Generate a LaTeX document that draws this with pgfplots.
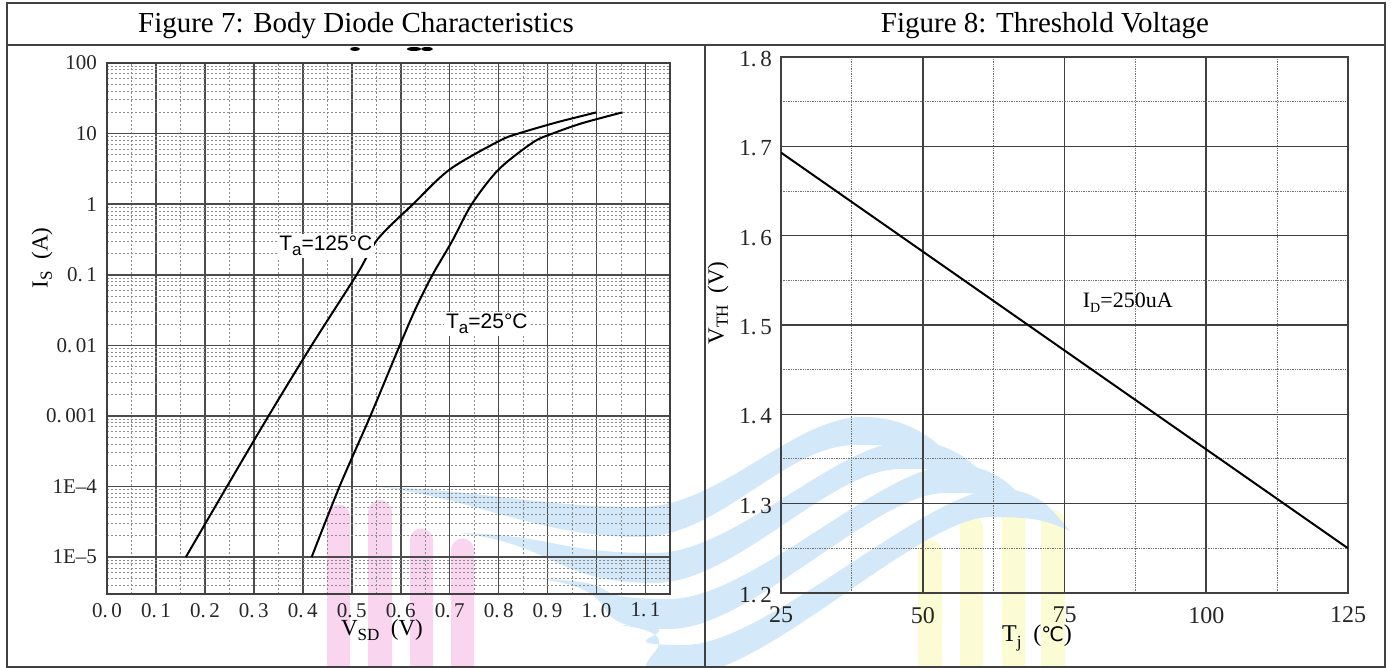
\documentclass[border=0pt]{standalone}
\usepackage{pgfplots}
\pgfplotsset{compat=1.18}
\usepackage{fontspec}
\setmainfont{Liberation Serif}
\newfontfamily\sansf{Liberation Sans}
\newfontfamily\dejavu{DejaVu Sans}
\definecolor{wmblue}{HTML}{D3E8F8}
\definecolor{wmpink}{HTML}{F9D5EF}
\definecolor{wmyel}{HTML}{FBFBD4}
\begin{document}
\begin{tikzpicture}[x=0.5pt,y=0.5pt]
\useasboundingbox (0,0) rectangle (1391,668);
% watermark (behind)
\begin{scope}
\clip (8,2) rectangle (1384,622);
\fill[wmpink] (327,0) -- (327,152) arc[start angle=180,end angle=0,radius=11.5] -- (350,0) -- cycle;
\fill[wmpink] (368,0) -- (368,156) arc[start angle=180,end angle=0,radius=12] -- (392,0) -- cycle;
\fill[wmpink] (410,0) -- (410,128) arc[start angle=180,end angle=0,radius=11.5] -- (433,0) -- cycle;
\fill[wmpink] (451,0) -- (451,118) arc[start angle=180,end angle=0,radius=11.5] -- (474,0) -- cycle;
\fill[wmyel] (918,0) -- (918,116) arc[start angle=180,end angle=0,radius=12] -- (942,0) -- cycle;
\fill[wmyel] (960,0) -- (960,141) arc[start angle=180,end angle=0,radius=11.5] -- (983,0) -- cycle;
\fill[wmyel] (1002,0) -- (1002,151) arc[start angle=180,end angle=0,radius=11.5] -- (1025,0) -- cycle;
\fill[wmyel] (1041,0) -- (1041,146) arc[start angle=180,end angle=0,radius=12] -- (1065,0) -- cycle;
\begin{scope}[shift={(0,668)}, yscale=-1]
\foreach \k in {0,1,2,3} {
 \fill[wmblue]
  ({380+80*\k},{487+46*\k})
  .. controls ({480+80*\k},{490+46*\k}) and ({540+15*\k},{507+46*\k}) .. ({640+15*\k},{507+46*\k})
  .. controls ({720+15*\k},{507+46*\k}) and ({793+45*\k},{417+24*\k}) .. ({863+45*\k},{417+24*\k})
  .. controls ({908+45*\k},{417+24*\k}) and ({935+40*\k},{440+25*\k}) .. ({950+40*\k},{456+25*\k})
  .. controls ({925+40*\k},{445+25*\k}) and ({900+45*\k},{445+24*\k}) .. ({855+45*\k},{445+24*\k})
  .. controls ({785+45*\k},{445+24*\k}) and ({720+15*\k},{537+46*\k}) .. ({640+15*\k},{537+46*\k})
  .. controls ({540+15*\k},{537+46*\k}) and ({480+80*\k},{500+46*\k}) .. ({380+80*\k},{487+46*\k}) -- cycle;
}
\end{scope}
\end{scope}
% table
\draw[line width=1pt, black!75] (7,1) rectangle (1385,665);
\draw[line width=1pt, black!75] (7,623) -- (1385,623);
\draw[line width=1pt, black!75] (705,1) -- (705,623);
\node[anchor=base, font=\fontsize{14.5}{16}\selectfont] at (356,635) {Figure 7: Body Diode Characteristics};
\node[anchor=base, font=\fontsize{14.5}{16}\selectfont] at (1045,635) {Figure 8: Threshold Voltage};
% remnants of a cropped caption
\fill[black] (355,619) ellipse[x radius=5, y radius=2];
\fill[black] (414,619) ellipse[x radius=7, y radius=2];
\fill[black] (427,619) ellipse[x radius=6, y radius=2];

\begin{axis}[
  at={(53.5pt,37pt)}, anchor=south west, scale only axis,
  width=281.5pt, height=265.5pt,
  xmin=0, xmax=1.15, ymin=3e-6, ymax=100, ymode=log,
  xtick={0,0.1,0.2,0.3,0.4,0.5,0.6,0.7,0.8,0.9,1.0,1.1},
  xticklabels={0.\,0,0.\,1,0.\,2,0.\,3,0.\,4,0.\,5,0.\,6,0.\,7,0.\,8,0.\,9,1.\,0,1.\,1},
  ytick={1e-5,1e-4,1e-3,1e-2,1e-1,1,10,100},
  yticklabels={1E--5,1E--4,0.\,001,0.\,01,0.\,1,1,10,100},
  minor xtick={0.05,0.15,0.25,0.35,0.45,0.55,0.65,0.75,0.85,0.95,1.05},
  minor ytick={3e-6,4e-6,5e-6,6e-6,7e-6,8e-6,9e-6,
    2e-5,3e-5,4e-5,5e-5,6e-5,7e-5,8e-5,9e-5,
    2e-4,3e-4,4e-4,5e-4,6e-4,7e-4,8e-4,9e-4,
    2e-3,3e-3,4e-3,5e-3,6e-3,7e-3,8e-3,9e-3,
    0.02,0.03,0.04,0.05,0.06,0.07,0.08,0.09,
    0.2,0.3,0.4,0.5,0.6,0.7,0.8,0.9,
    2,3,4,5,6,7,8,9,
    20,30,40,50,60,70,80,90},
  grid=both,
  major grid style={line width=0.8pt, draw=black!70},
  minor grid style={line width=0.45pt, draw=black!45, dash pattern=on 1.2pt off 0.8pt},
  axis line style={line width=0.9pt, draw=black!75},
  major tick length=0pt, minor tick length=0pt,
  tick label style={font=\fontsize{10.5}{12}\selectfont, text=black!85},
  /pgf/number format/assume math mode=true,
  yticklabel style={xshift=-1.5pt},
  xticklabel style={yshift=-1pt},
]
\addplot[black, line width=1pt, smooth, tension=0.5] coordinates {
 (0.161,1e-5) (0.245,1e-4) (0.33,1e-3) (0.418,0.01) (0.51,0.1) (0.553,0.32)
 (0.625,1) (0.70,3.1) (0.80,7.8) (0.84,10) (0.92,14.5) (1.0,20)};
\addplot[black, line width=1pt, smooth, tension=0.5] coordinates {
 (0.418,1e-5) (0.475,1e-4) (0.538,1e-3) (0.598,0.01) (0.632,0.035) (0.665,0.1)
 (0.705,0.3) (0.745,1) (0.80,3.1) (0.87,7.5) (0.91,10) (0.97,14) (1.053,20)};
\node[fill=white, inner sep=1pt, font=\sansf\fontsize{10.5}{12}\selectfont] at (axis cs:0.447,0.256) {T\raisebox{-0.45ex}{\fontsize{8.5}{9}\selectfont a}=125°C};
\node[fill=white, inner sep=1pt, font=\sansf\fontsize{10.5}{12}\selectfont] at (axis cs:0.776,0.0201) {T\raisebox{-0.45ex}{\fontsize{8.5}{9}\selectfont a}=25°C};
\end{axis}
\node[rotate=90, font=\fontsize{11.5}{13}\selectfont] at (42,410) {I\raisebox{-0.4ex}{\fontsize{8.5}{9}\selectfont S}\ \ (A)};
\node[font=\fontsize{11.5}{13}\selectfont] at (382,38) {V\raisebox{-0.5ex}{\fontsize{8.5}{9}\selectfont SD}\ \ (V)};

\begin{axis}[
  at={(390.5pt,37.5pt)}, anchor=south west, scale only axis,
  width=283.5pt, height=268pt,
  xmin=25, xmax=125, ymin=1.2, ymax=1.8,
  xtick={25,50,75,100,125},
  ytick={1.2,1.3,1.4,1.5,1.6,1.7,1.8},
  yticklabels={1.\,2,1.\,3,1.\,4,1.\,5,1.\,6,1.\,7,1.\,8},
  minor xtick={37.5,62.5,87.5,112.5},
  minor ytick={1.25,1.35,1.45,1.55,1.65,1.75},
  grid=both,
  major grid style={line width=0.8pt, draw=black!75},
  minor grid style={line width=0.5pt, draw=black!55, dash pattern=on 0.7pt off 0.5pt},
  axis line style={line width=0.9pt, draw=black!75},
  major tick length=0pt, minor tick length=0pt,
  tick label style={font=\fontsize{11.5}{13}\selectfont, text=black!85},
  xticklabel style={font=\fontsize{12}{14}\selectfont, yshift=-3.5pt},
  yticklabel style={xshift=-1pt, yshift=-1pt},
  /pgf/number format/assume math mode=true,
]
\addplot[black, line width=1pt] coordinates {(25,1.693) (125,1.25)};
\node[anchor=west, font=\fontsize{11}{13}\selectfont] at (axis cs:77,1.525) {I\raisebox{-0.5ex}{\fontsize{7}{8}\selectfont D}=250uA};
\end{axis}
\node[rotate=90, font=\fontsize{11.5}{13}\selectfont] at (718,365) {V\raisebox{-0.4ex}{\fontsize{8.5}{9}\selectfont TH}\ \ (V)};
\node[font=\fontsize{12}{14}\selectfont] at (1037,30) {T\raisebox{-0.5ex}{\fontsize{8.5}{9}\selectfont j}\ \ ({\dejavu\fontsize{10}{12}\selectfont ℃})};
\end{tikzpicture}
\end{document}
